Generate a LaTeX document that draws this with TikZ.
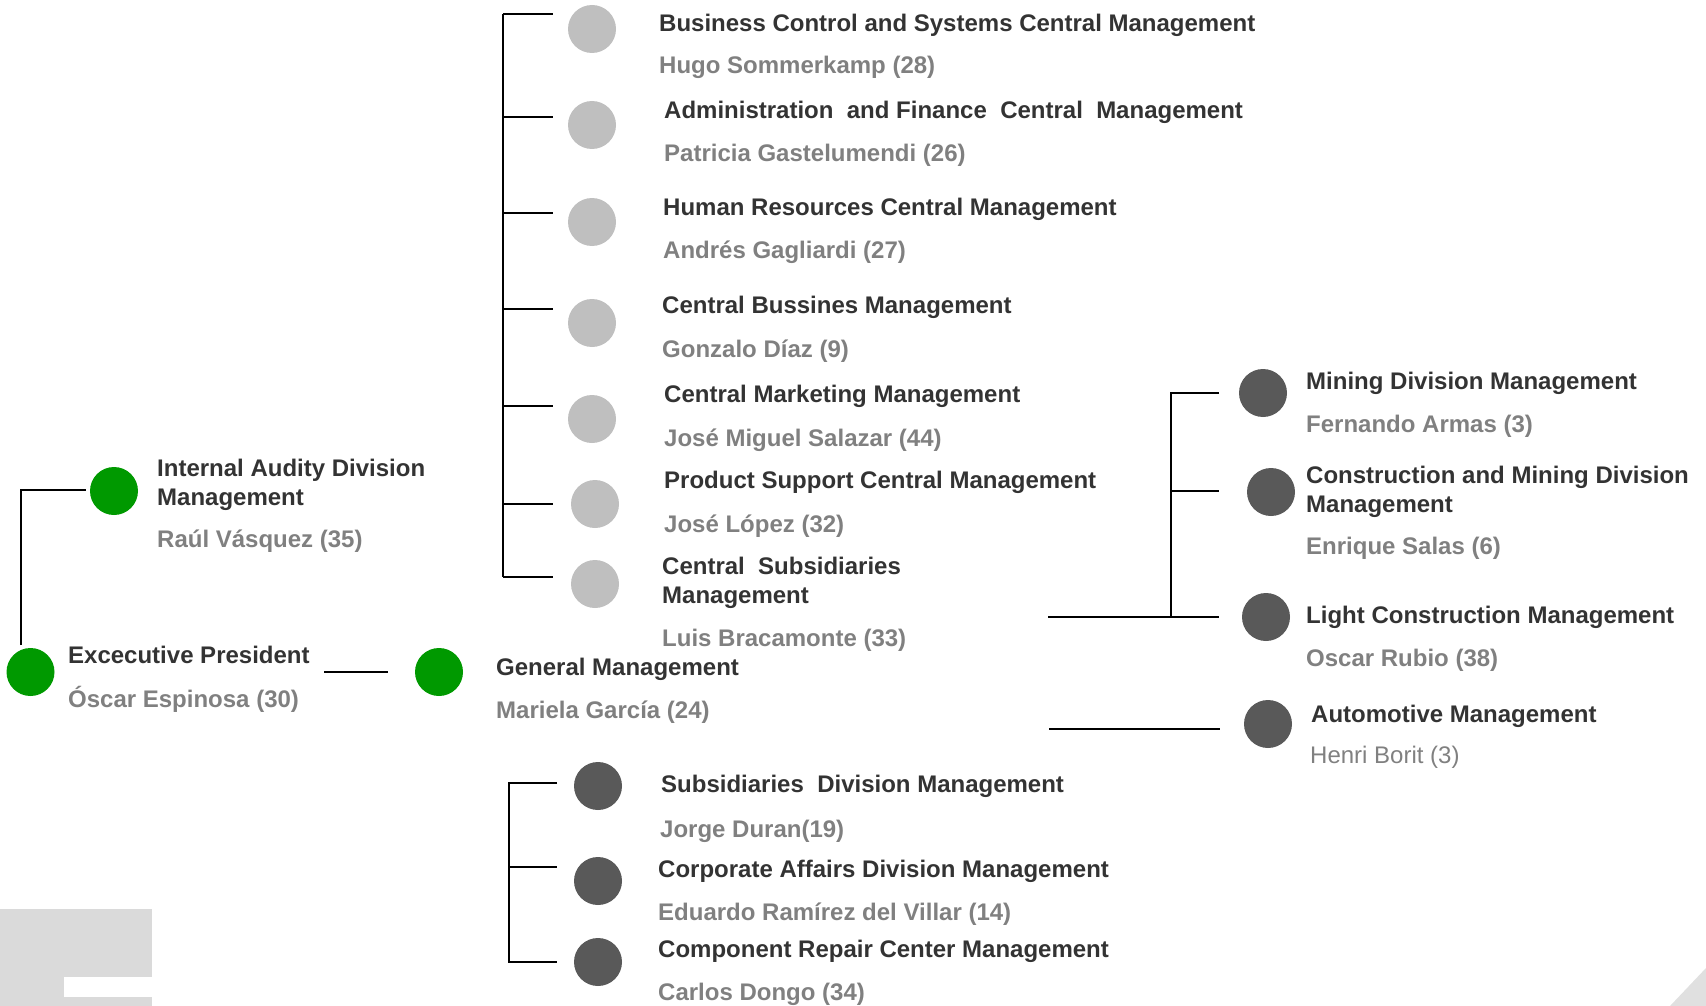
\documentclass[tikz,border=0pt]{standalone}
\usepackage{fontspec}
\setmainfont{Liberation Sans}
\definecolor{titlegray}{HTML}{333333}
\definecolor{namegray}{HTML}{808080}
\definecolor{orggreen}{HTML}{009900}
\definecolor{lightdot}{HTML}{BFBFBF}
\definecolor{darkdot}{HTML}{595959}
\definecolor{decor}{HTML}{DADADA}
\begin{document}
\begin{tikzpicture}[x=1pt,y=-1pt,
  dot/.style={circle,minimum size=48pt,inner sep=0pt,draw=none},
  gdot/.style={dot,fill=orggreen},
  ldot/.style={dot,fill=lightdot},
  ddot/.style={dot,fill=darkdot},
  ttl/.style={anchor=base west,inner sep=0pt,align=left,text=titlegray,
              font=\fontsize{24}{29}\selectfont\bfseries},
  nm/.style={anchor=base west,inner sep=0pt,text=namegray,
             font=\fontsize{24}{29}\selectfont\bfseries},
  nmreg/.style={anchor=base west,inner sep=0pt,text=namegray,
             font=\fontsize{24}{29}\selectfont},
  link/.style={line width=2pt,black}]
\useasboundingbox (0,0) rectangle (1706,1006);

% corner decorations
\fill[decor] (0,909) rectangle (152,1006);
\fill[white] (64,977) rectangle (152,997);
\fill[decor!85] (1670,1006) -- (1706,968) -- (1706,1006) -- cycle;

% ---------- top management ----------
% (two-line titles are anchored at the baseline of their last line)
\node[gdot] (ep) at (30.5,672) {};
\node[ttl] (ept) at (68,663) {Excecutive President};
\node[nm]  (epn) at (68,707) {Óscar Espinosa (30)};

\node[gdot] (ia) at (114,491) {};
\node[ttl] (iat) at (157,505) {Internal Audity Division\\Management};
\node[nm]  (ian) at (157,547) {Raúl Vásquez (35)};

\node[gdot] (gm) at (439,672) {};
\node[ttl] (gmt) at (496,675) {General Management};
\node[nm]  (gmn) at (496,718) {Mariela García (24)};

\coordinate (lt) at (21,490);
\coordinate (lb) at (21,645);
\coordinate (la) at (86,490);
\draw[link] (lb) -- (lt) -- (la);
\coordinate (eg1) at (324,672);
\coordinate (eg2) at (388,672);
\draw[link] (eg1) -- (eg2);

% ---------- central managements ----------
\node[ldot] (c1) at (592,29) {};
\node[ttl] (c1t) at (659,32) {Business Control and Systems Central Management};
\node[nm]  (c1n) at (659,74) {Hugo Sommerkamp (28)};

\node[ldot] (c2) at (592,125) {};
\node[ttl] (c2t) at (664,119) {Administration~ and Finance~ Central~ Management};
\node[nm]  (c2n) at (664,161) {Patricia Gastelumendi (26)};

\node[ldot] (c3) at (592,222) {};
\node[ttl] (c3t) at (663,215) {Human Resources Central Management};
\node[nm]  (c3n) at (663,258) {Andrés Gagliardi (27)};

\node[ldot] (c4) at (592,323) {};
\node[ttl] (c4t) at (662,313) {Central Bussines Management};
\node[nm]  (c4n) at (662,357) {Gonzalo Díaz (9)};

\node[ldot] (c5) at (592,419) {};
\node[ttl] (c5t) at (664,402) {Central Marketing Management};
\node[nm]  (c5n) at (664,446) {José Miguel Salazar (44)};

\node[ldot] (c6) at (595,504) {};
\node[ttl] (c6t) at (664,488) {Product Support Central Management};
\node[nm]  (c6n) at (664,532) {José López (32)};

\node[ldot] (c7) at (595,584) {};
\node[ttl] (c7t) at (662,603) {Central~ Subsidiaries\\Management};
\node[nm]  (c7n) at (662,646) {Luis Bracamonte (33)};

\coordinate (ct) at (503,14);
\coordinate (cb) at (503,577);
\draw[link] (ct) -- (cb);
\foreach \y/\n in {14/1,117/2,213/3,309/4,406/5,504/6,577/7}{
  \coordinate (cj\n) at (503,\y);
  \coordinate (ce\n) at (553,\y);
  \draw[link] (cj\n) -- (ce\n);
}

% ---------- divisions ----------
\node[ddot] (m1) at (1263,393) {};
\node[ttl] (m1t) at (1306,389) {Mining Division Management};
\node[nm]  (m1n) at (1306,432) {Fernando Armas (3)};

\node[ddot] (m2) at (1271,492) {};
\node[ttl] (m2t) at (1306,512) {Construction and Mining Division\\Management};
\node[nm]  (m2n) at (1306,554) {Enrique Salas (6)};

\node[ddot] (m3) at (1266,617) {};
\node[ttl] (m3t) at (1306,623) {Light Construction Management};
\node[nm]  (m3n) at (1306,666) {Oscar Rubio (38)};

\node[ddot] (m4) at (1268,724) {};
\node[ttl] (m4t) at (1311,722) {Automotive Management};
\node[nmreg] (m4n) at (1310,763) {Henri Borit (3)};

\coordinate (mt) at (1171,393);
\coordinate (mb) at (1171,617);
\coordinate (me1) at (1219,393);
\coordinate (me2) at (1219,491);
\coordinate (mj2) at (1171,491);
\coordinate (me3) at (1219,617);
\coordinate (ms3) at (1048,617);
\draw[link] (me1) -- (mt) -- (mb);
\draw[link] (mj2) -- (me2);
\draw[link] (ms3) -- (me3);
\coordinate (as) at (1049,729);
\coordinate (ae) at (1220,729);
\draw[link] (as) -- (ae);

% ---------- corporate divisions ----------
\node[ddot] (b1) at (598,786) {};
\node[ttl] (b1t) at (661,792) {Subsidiaries~ Division Management};
\node[nm]  (b1n) at (660,837) {Jorge Duran(19)};

\node[ddot] (b2) at (598,881) {};
\node[ttl] (b2t) at (658,877) {Corporate Affairs Division Management};
\node[nm]  (b2n) at (658,920) {Eduardo Ramírez del Villar (14)};

\node[ddot] (b3) at (598,962) {};
\node[ttl] (b3t) at (658,957) {Component Repair Center Management};
\node[nm]  (b3n) at (658,1000) {Carlos Dongo (34)};

\coordinate (bt) at (509,783);
\coordinate (bb) at (509,962);
\coordinate (be1) at (557,783);
\coordinate (bj2) at (509,867);
\coordinate (be2) at (557,867);
\coordinate (be3) at (557,962);
\draw[link] (be1) -- (bt) -- (bb) -- (be3);
\draw[link] (bj2) -- (be2);
\end{tikzpicture}
\end{document}
